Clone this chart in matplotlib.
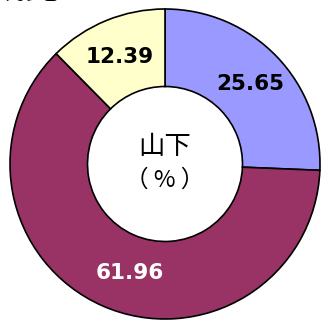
import matplotlib
matplotlib.use("Agg")
import matplotlib.pyplot as plt

# share of each group (%), clockwise from 12 o'clock
values = [25.65, 61.96, 12.39]
colors = ['#9999FF', '#993366', '#FFFFCC']
text_colors = ['black', 'white', 'black']
center_title = '山下'
center_unit = '（ % ）'
title = '構成比'

plt.rcParams['font.family'] = ['Noto Sans CJK JP', 'DejaVu Sans']

fig = plt.figure(figsize=(3.21, 3.20), dpi=100)
ax = fig.add_axes([0, 0, 1, 1])

cx, cy, r = 165, 156, 155
ax.pie(values, colors=colors, startangle=90, counterclock=False,
       center=(cx, cy), radius=r, frame=True,
       wedgeprops=dict(width=r * 0.5, edgecolor='black', linewidth=1.2))
ax.set_xlim(0, 321)
ax.set_ylim(0, 320)
ax.set_aspect('equal')
ax.axis('off')

# value labels inside the ring
label_pos = [(85, 80), (-35, -109), (-45, 107)]
for v, (dx, dy), tc in zip(values, label_pos, text_colors):
    ax.text(cx + dx, cy + dy, f'{v:.2f}', ha='center', va='center',
            fontsize=15.5, fontweight='bold', color=tc,
            family='DejaVu Sans')

ax.text(cx, cy + 17, center_title, ha='center', va='center', fontsize=19)
ax.text(cx, cy - 16, center_unit, ha='center', va='center', fontsize=17)

fig.text(60 / 321, 1 - 7 / 320, title, ha='right', va='bottom', fontsize=24)

fig.savefig('out.png', dpi=100)
